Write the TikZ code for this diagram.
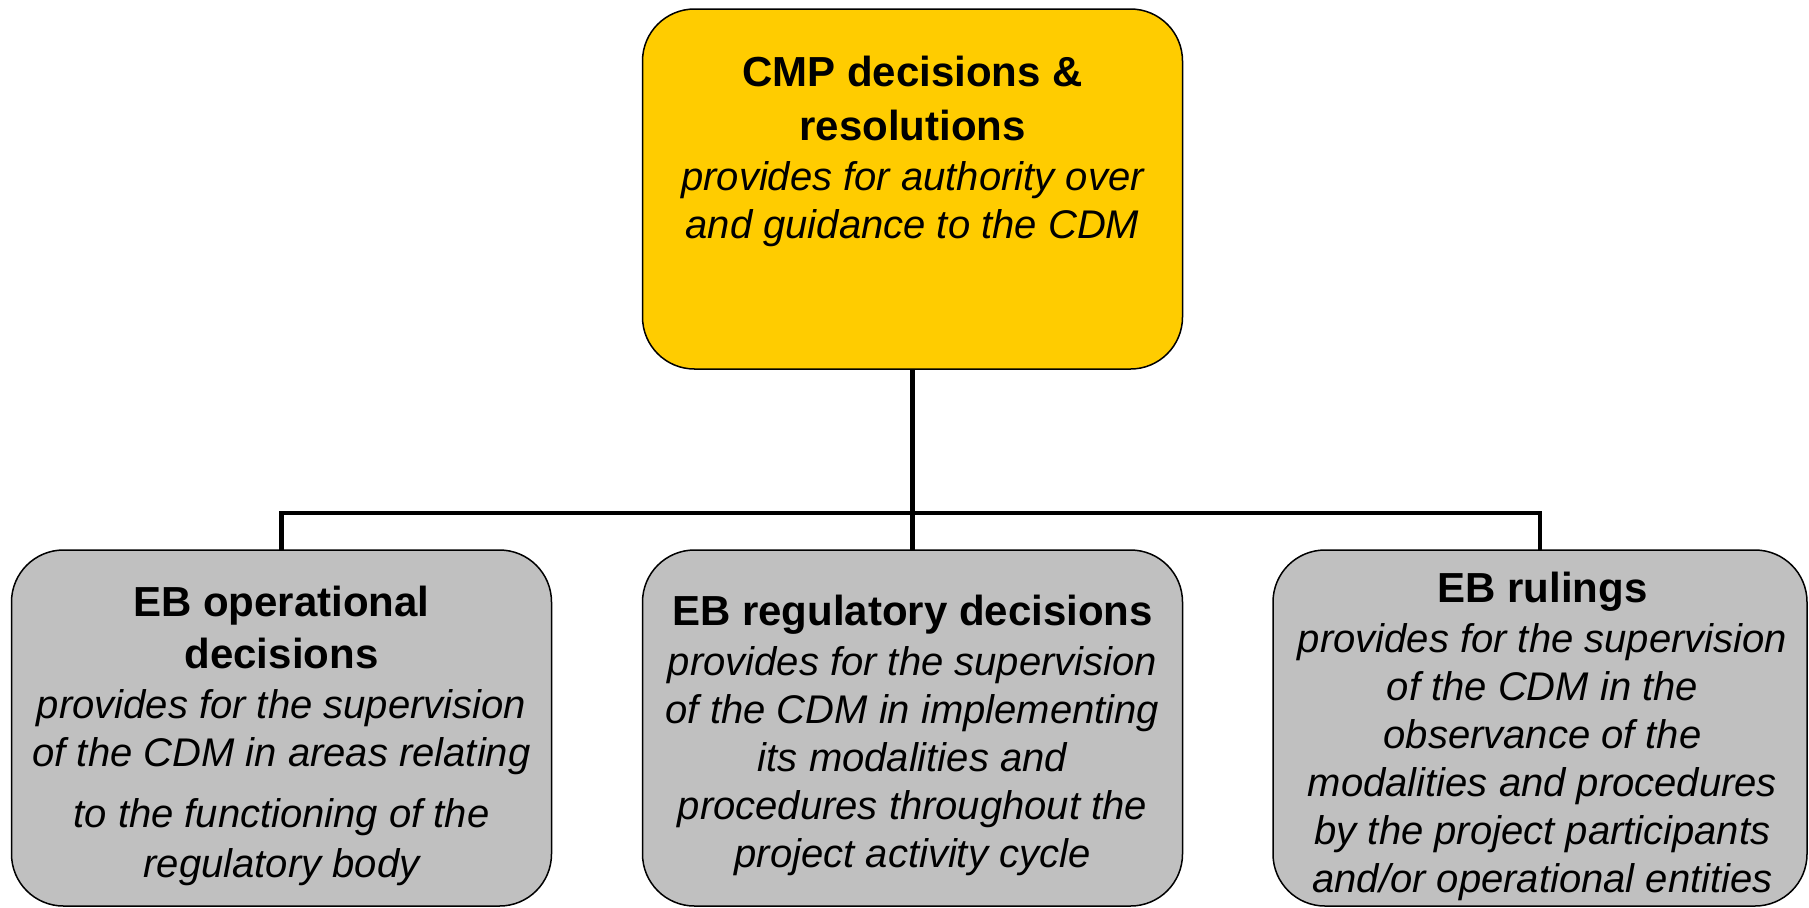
\documentclass[tikz,border=0pt]{standalone}
\usepackage{fontspec}
\setmainfont{Liberation Sans}
\definecolor{cmpyellow}{HTML}{FFCC00}
\definecolor{ebgray}{HTML}{C0C0C0}
\newcommand{\boxtitle}[1]{{\fontsize{21}{24}\selectfont\bfseries\upshape #1}}

\begin{document}
\begin{tikzpicture}[x=0.5pt,y=-0.5pt,
  box/.style={draw, line width=0.75pt, rounded corners=26pt, inner sep=0pt, outer sep=0pt, minimum width=270pt, minimum height=178pt},
  txt/.style={anchor=north, inner sep=0pt, align=center, font=\fontsize{20}{24}\selectfont\itshape},
  wire/.style={line width=2.2pt}]
\useasboundingbox (0,0) rectangle (1809,907);
\node [box, fill=cmpyellow, minimum height=180pt] (cmp) at (912.5,189) {};
\node [box, fill=ebgray] (opr) at (281.5,728) {};
\node [box, fill=ebgray] (reg) at (912.5,728) {};
\node [box, fill=ebgray, minimum width=267pt] (rul) at (1540,728) {};
\coordinate (bus) at (912.5,513);
\draw [wire] (cmp.south) -- (reg.north);
\draw [wire] (opr.north) -- (opr.north |- bus) -- (rul.north |- bus) -- (rul.north);
\node [txt] (cmptxt) at (912.5,56) {\boxtitle{CMP decisions \&}\\[3pt]
  \boxtitle{resolutions}\\[1pt]
  provides for authority over\\
  and guidance to the CDM};
\node [txt] (oprtxt) at (281.5,586) {\boxtitle{EB operational}\\[2pt]
  \boxtitle{decisions}\\[1pt]
  provides for the supervision\\
  of the CDM in areas relating\\[6.5pt]
  to the functioning of the\\[1pt]
  regulatory body};
\node [txt] (regtxt) at (912.5,595) {\boxtitle{EB regulatory decisions}\\[1pt]
  provides for the supervision\\
  of the CDM in implementing\\
  its modalities and\\
  procedures throughout the\\
  project activity cycle};
\node [txt] (rultxt) at (1542.5,572) {\boxtitle{EB rulings}\\[1pt]
  provides for the supervision\\
  of the CDM in the\\
  observance of the\\
  modalities and procedures\\
  by the project participants\\
  and/or operational entities};
\end{tikzpicture}
\end{document}
